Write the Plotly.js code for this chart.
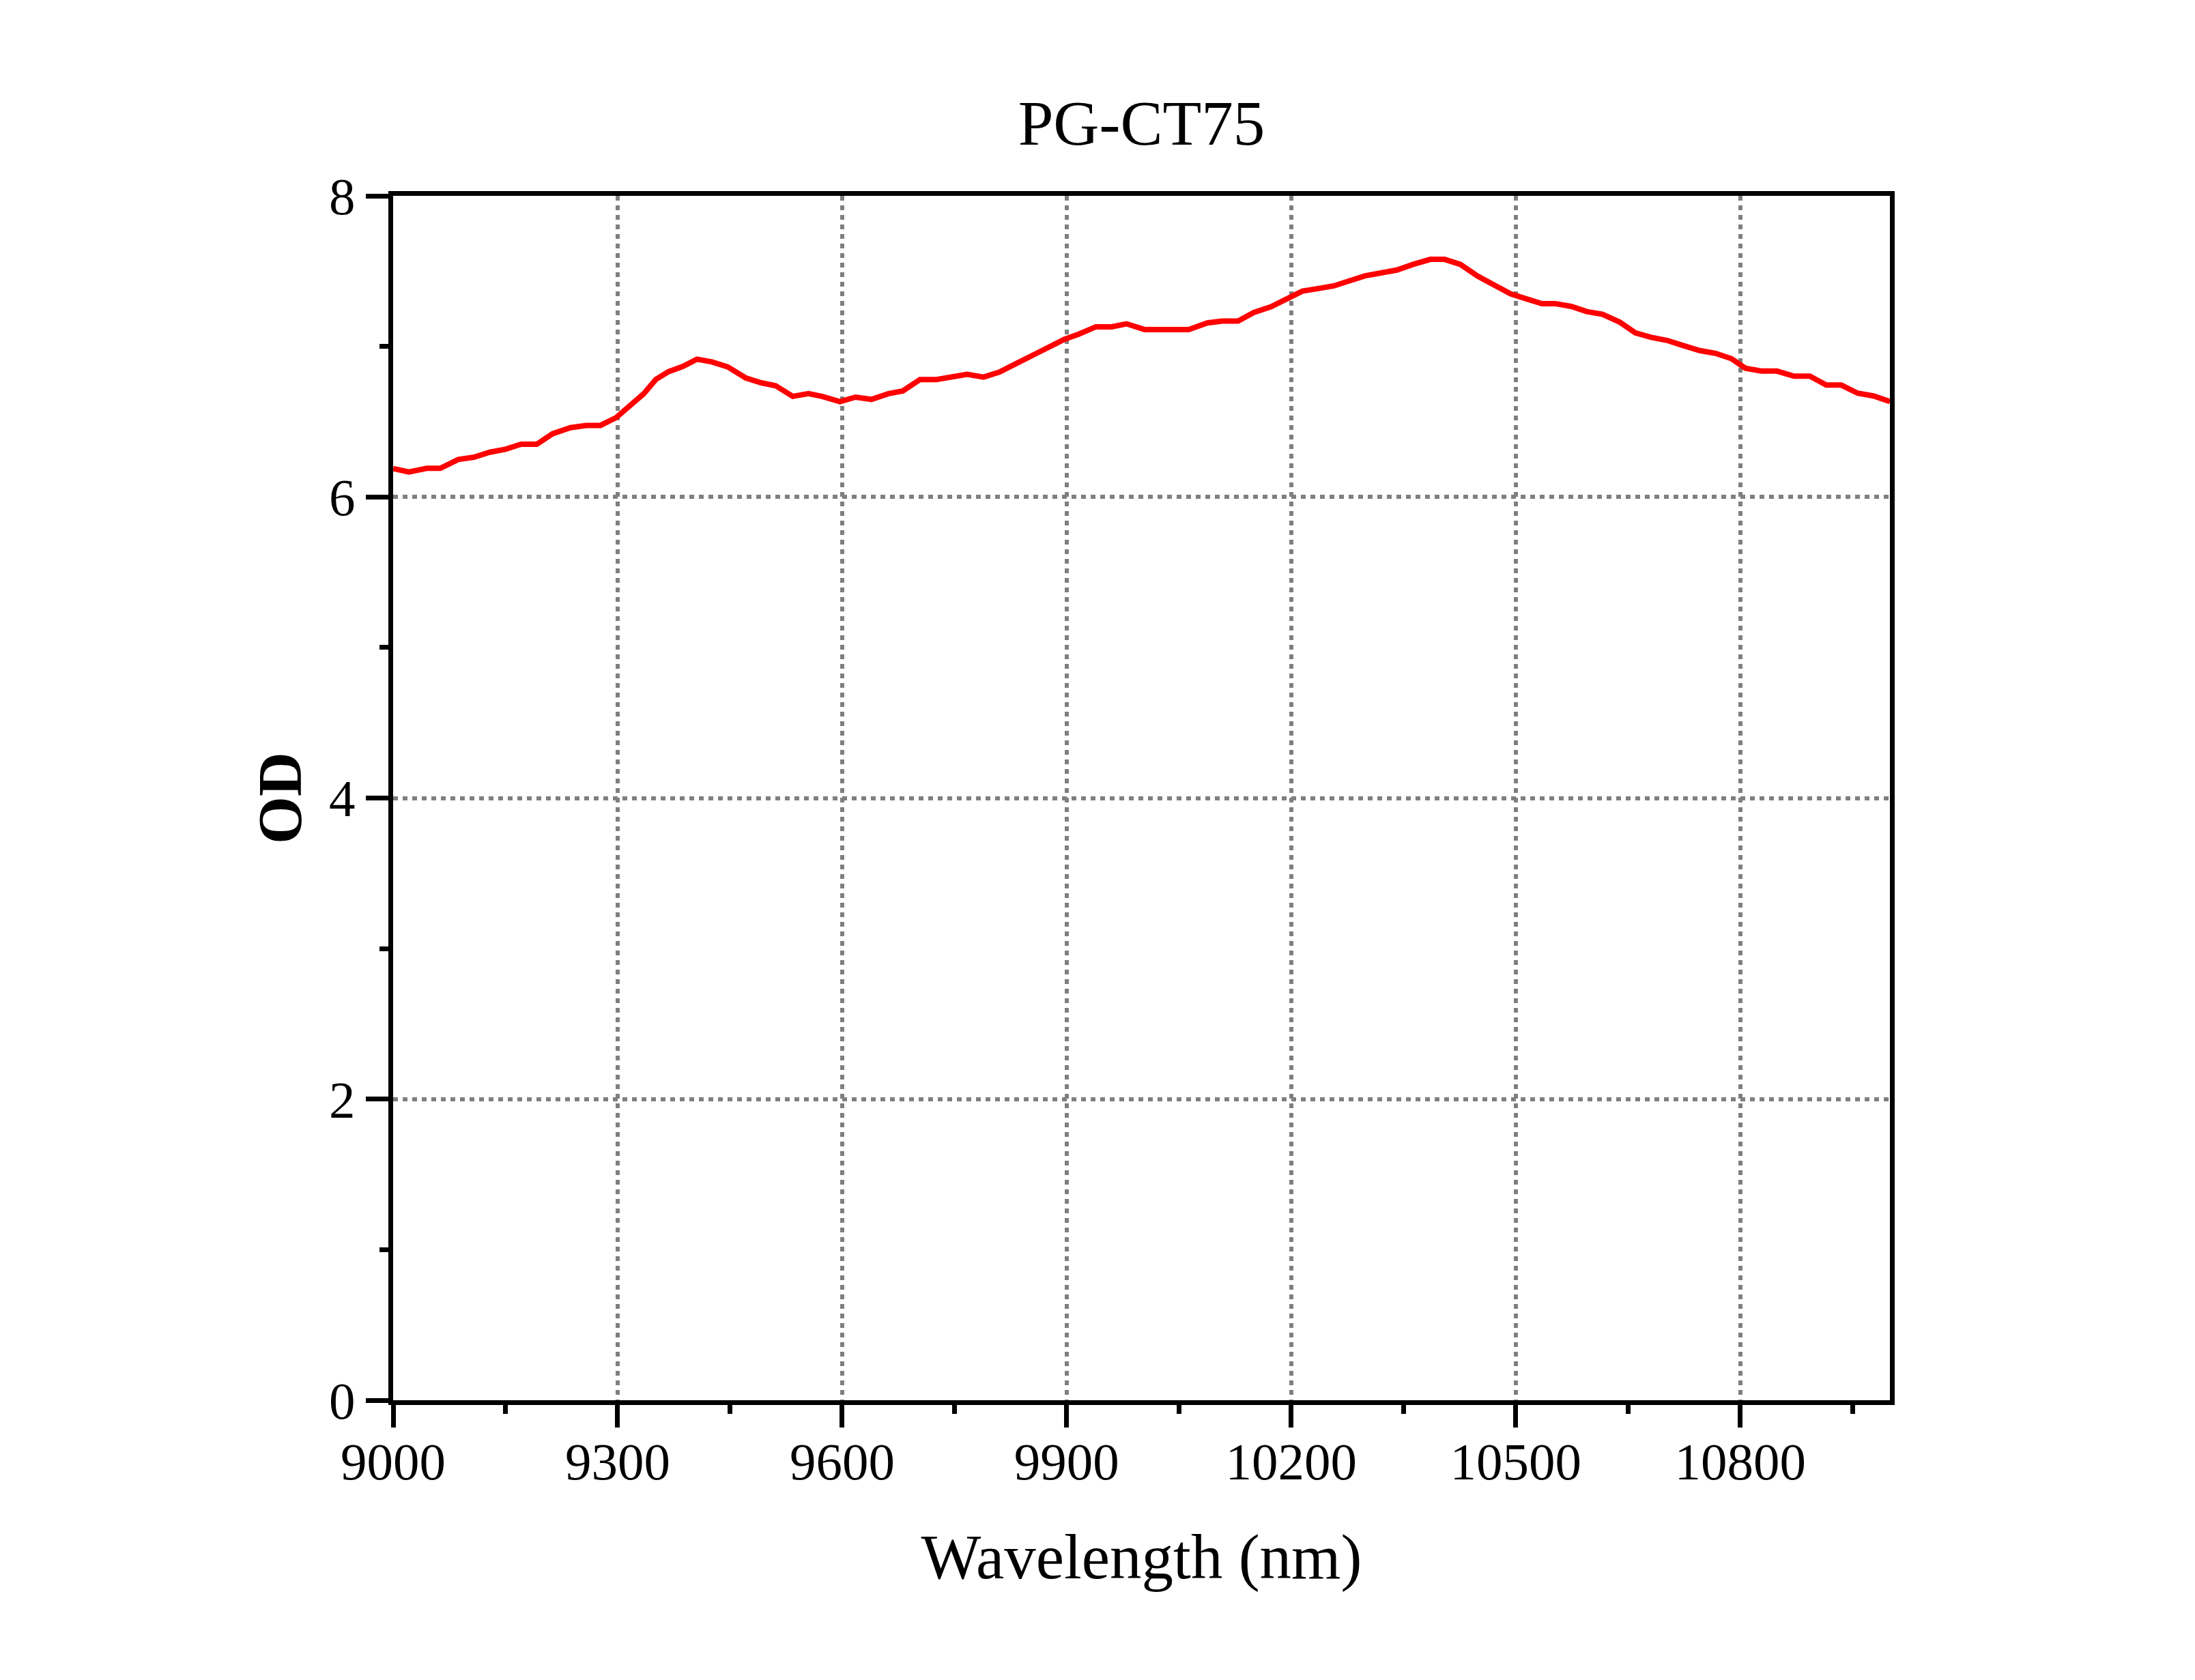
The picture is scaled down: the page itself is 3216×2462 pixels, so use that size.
<!DOCTYPE html>
<html>
<head>
<meta charset="utf-8">
<script src="https://cdn.plot.ly/plotly-3.0.1.min.js"></script>
<style>
  html, body { margin: 0; padding: 0; background: #fff; }
  #chart { width: 3216px; height: 2462px; }
</style>
</head>
<body>
<div id="chart"></div>
<script>
// PG-CT75 optical density spectrum
const wavelength = [
  9000, 9021, 9045, 9063, 9087, 9108, 9129, 9150, 9171, 9192,
  9213, 9237, 9258, 9277, 9298, 9316, 9335, 9351, 9368, 9387,
  9406, 9426, 9447, 9471, 9492, 9511, 9534, 9555, 9573, 9597,
  9618, 9639, 9662, 9681, 9704, 9726, 9747, 9767, 9789, 9810,
  9831, 9855, 9876, 9897, 9916, 9939, 9960, 9980, 10004, 10025,
  10063, 10088, 10108, 10129, 10150, 10173, 10194, 10215, 10236, 10257,
  10278, 10299, 10320, 10341, 10363, 10386, 10405, 10426, 10449, 10472,
  10493, 10514, 10535, 10553, 10574, 10595, 10616, 10639, 10660, 10681,
  10702, 10723, 10746, 10767, 10788, 10807, 10828, 10849, 10872, 10893,
  10915, 10935, 10957, 10978, 11000
];
const od = [
  6.188, 6.166, 6.19, 6.19, 6.249, 6.264, 6.297, 6.317, 6.35, 6.35,
  6.42, 6.46, 6.475, 6.475, 6.527, 6.61, 6.686, 6.78, 6.832, 6.867,
  6.915, 6.897, 6.864, 6.791, 6.758, 6.739, 6.668, 6.686, 6.668, 6.633,
  6.663, 6.648, 6.686, 6.704, 6.78, 6.78, 6.8, 6.814, 6.796, 6.829,
  6.882, 6.942, 6.995, 7.047, 7.081, 7.13, 7.13, 7.15, 7.112, 7.112,
  7.112, 7.156, 7.168, 7.168, 7.225, 7.263, 7.319, 7.367, 7.384, 7.402,
  7.436, 7.469, 7.488, 7.507, 7.545, 7.578, 7.578, 7.545, 7.467, 7.402,
  7.349, 7.316, 7.284, 7.284, 7.266, 7.231, 7.213, 7.161, 7.09, 7.06,
  7.04, 7.007, 6.972, 6.954, 6.919, 6.855, 6.836, 6.836, 6.802, 6.802,
  6.743, 6.743, 6.689, 6.671, 6.633
];
const xTicks = [9000, 9300, 9600, 9900, 10200, 10500, 10800];
const yTicks = [0, 2, 4, 6, 8];

const FONT = '"Liberation Serif", "Times New Roman", "DejaVu Serif", serif';

const axisBase = {
  showline: true, linecolor: '#000', linewidth: 7, mirror: true,
  ticks: 'outside', tickcolor: '#000', tickwidth: 7, ticklen: 33,
  showgrid: true, gridcolor: '#7f7f7f', gridwidth: 6, griddash: '7px,7px',
  zeroline: false,
  tickfont: { family: FONT, size: 77, color: '#000' },
};
const minorBase = { ticks: 'outside', ticklen: 13, tickwidth: 7, tickcolor: '#000', showgrid: false };

Plotly.newPlot('chart', [{
  type: 'scatter', mode: 'lines',
  x: wavelength, y: od,
  line: { color: '#ff0000', width: 8 },
  hoverinfo: 'x+y',
}], {
  width: 3216, height: 2462,
  paper_bgcolor: '#fff', plot_bgcolor: '#fff',
  margin: { l: 576, r: 447, t: 287, b: 410 },
  showlegend: false,
  font: { family: FONT, color: '#000' },
  title: {
    text: 'PG-CT75',
    font: { family: FONT, size: 93, color: '#000' },
    x: 0.5, xref: 'paper', xanchor: 'center',
    y: 0.927, yref: 'container', yanchor: 'middle',
  },
  xaxis: {
    ...axisBase,
    range: [9000, 11000],
    tickmode: 'array', tickvals: xTicks, ticktext: xTicks.map(String),
    ticklabelstandoff: -16,
    minor: { ...minorBase, dtick: 150, tick0: 9000 },
    title: { text: 'Wavelength (nm)', font: { family: FONT, size: 93, color: '#000' }, standoff: 66 },
  },
  yaxis: {
    ...axisBase,
    range: [0, 8],
    tickmode: 'array', tickvals: yTicks, ticktext: yTicks.map(String),
    minor: { ...minorBase, dtick: 1, tick0: 0 },
    title: { text: '<b>OD</b>', font: { family: FONT, size: 90, color: '#000' }, standoff: 13 },
  },
}, { staticPlot: true });
</script>
</body>
</html>
